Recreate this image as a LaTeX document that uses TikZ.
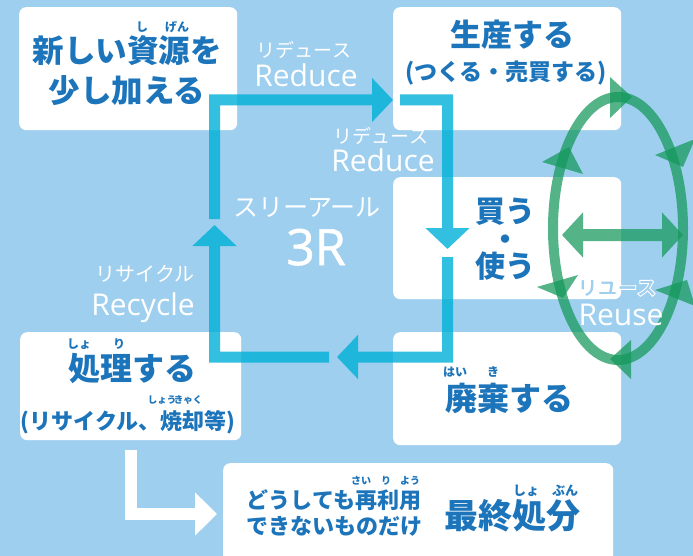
\documentclass[tikz,border=0pt]{standalone}
\usepackage{fontspec}
\newfontfamily\jp{Noto Sans CJK JP}
\newfontfamily\lat{Open Sans}
\newfontfamily\latb{Open Sans}[FakeBold=1.2]
\usetikzlibrary{arrows.meta}
\definecolor{bgblue}{HTML}{9FCFEE}
\definecolor{jpblue}{HTML}{1C74BA}
\definecolor{cyanc}{HTML}{00B0D8}
\definecolor{greenc}{HTML}{14985A}
\newcommand\jfs[1]{\fontsize{#1}{#1}\selectfont}
\newcommand\buyfont{\jp\bfseries\fontsize{30}{27.5}\selectfont\lineskiplimit=-100pt\relax}
\newcommand\outlinetext[1]{\special{pdf:code q 2 Tr 1 1 1 RG 0.9 w}#1\special{pdf:code Q}}
\begin{document}
\begin{tikzpicture}[x=1pt,y=-1pt,
  box/.style={fill=white, rounded corners=7pt, inner sep=0pt, anchor=north west},
  jt/.style={text=jpblue, font=\jp\bfseries, inner sep=0pt},
  wt/.style={text=white, font=\jp, inner sep=0pt},
  wl/.style={text=white, font=\lat, inner sep=0pt, anchor=base},
  loopline/.style={draw=cyanc, line width=11pt, -{Triangle[length=21pt,width=43pt]}},
  greenshape/.style={fill=greenc, opacity=0.72},
]
\clip (0,0) rectangle (693,556);
\fill[bgblue] (0,0) rectangle (693,556);

% boxes
\node[box, minimum width=218pt, minimum height=123pt] (b1) at (19,7) {};
\node[box, minimum width=228pt, minimum height=123pt] (b2) at (393,7) {};
\node[box, minimum width=228pt, minimum height=122pt] (b3) at (393,177) {};
\node[box, minimum width=228pt, minimum height=113pt] (b4) at (393,332) {};
\node[box, minimum width=221pt, minimum height=108pt] (b5) at (20,332) {};
\node[box, minimum width=390pt, minimum height=117pt] (b6) at (223,463) {};

% cyan loop
\coordinate (a1) at (214.5,219);
\coordinate (ac) at (214.5,100);
\coordinate (a2) at (393,100);
\coordinate (p1) at (400,100);
\coordinate (pc) at (447.5,100);
\coordinate (p2) at (447.5,249);
\coordinate (c1) at (447.5,257);
\coordinate (cc) at (447.5,357);
\coordinate (c2) at (337,357);
\coordinate (d1) at (329,357);
\coordinate (dc) at (214.5,357);
\coordinate (d2) at (214.5,225);
\begin{scope}[transparency group, opacity=0.8]
\draw[loopline] (a1) -- (ac) -- (a2);
\draw[loopline] (p1) -- (pc) -- (p2);
\draw[loopline] (c1) -- (cc) -- (c2);
\draw[loopline] (d1) -- (dc) -- (d2);
\end{scope}

% white arrow to final disposal
\coordinate (w1) at (131,450);
\coordinate (wc) at (131,514);
\coordinate (w2) at (217,514);
\draw[white, line width=12pt, -{Triangle[length=22pt,width=42pt]}] (w1) -- (wc) -- (w2);

% green reuse ellipse
\coordinate (ec) at (618,228.5);
\draw[greenc, line width=10pt, opacity=0.72] (ec) ellipse [x radius=65pt, y radius=131.5pt];
\fill[greenshape] (610,77) -- (632,97) -- (610,118) -- cycle;
\fill[greenshape] (631,340) -- (610,359) -- (631,379) -- cycle;
\fill[greenshape] (542,162) -- (569,147) -- (583,174) -- cycle;
\fill[greenshape] (537,287) -- (563,298) -- (578,275) -- cycle;
\fill[greenshape] (655,155) -- (683,167) -- (695,139) -- cycle;
\fill[greenshape] (655,290) -- (687,280) -- (695,306) -- cycle;
\coordinate (g1) at (562,235);
\coordinate (g2) at (683,235);
\begin{scope}[transparency group, opacity=0.72]
\draw[greenc, line width=12pt, {Triangle[length=21pt,width=44pt]}-{Triangle[length=21pt,width=44pt]}] (g1) -- (g2);
\end{scope}

% box texts
\node[jt] (t1a) at (127,51) {\jfs{31.5}新しい資源を};
\node[jt] (t1b) at (127,91) {\jfs{31.5}少し加える};
\node[jt] (r1a) at (142,27) {\jfs{12}し};
\node[jt] (r1b) at (177,27) {\jfs{12}げん};

\node[jt] (t2a) at (512,35) {\jfs{31}生産する};
\node[jt] (t2b) at (506,73) {\jfs{23}(つくる・売買する)};

\node[jt, align=center, font=\buyfont] (t3) at (505,239.5) {買う\\・\\使う};

\node[jt] (t4) at (509,398) {\jfs{32}廃棄する};
\node[jt] (r4a) at (455,372) {\jfs{12}はい};
\node[jt] (r4b) at (493,372) {\jfs{12}き};

\node[jt] (t5a) at (132,369) {\jfs{32}処理する};
\node[jt] (r5a) at (79,344) {\jfs{12}しょ};
\node[jt] (r5b) at (119,344) {\jfs{12}り};
\node[jt] (t5b) at (128,422) {\jfs{22}(リサイクル、焼却等)};
\node[jt] (r5c) at (162,400) {\jfs{9.5}しょう};
\node[jt] (r5d) at (188,400) {\jfs{9.5}きゃく};

\node[jt] (t6a) at (334,500) {\jfs{22}どうしても再利用};
\node[jt] (t6b) at (334,526) {\jfs{22}できないものだけ};
\node[jt] (r6a) at (361,481) {\jfs{10}さい};
\node[jt] (r6b) at (386,481) {\jfs{10}り};
\node[jt] (r6c) at (410,481) {\jfs{10}よう};
\node[jt] (t7) at (512,516) {\jfs{34}最終処分};
\node[jt] (r7a) at (526,491) {\jfs{13}しょ};
\node[jt] (r7b) at (565,491) {\jfs{13}ぶん};

% white labels
\node[wt] (l1a) at (304,50) {\jfs{19}リデュース};
\node[wl] (l1b) at (306,87) {\jfs{30}Reduce};
\node[wt] (l2a) at (381,136) {\jfs{19}リデュース};
\node[wl] (l2b) at (383,172) {\jfs{30}Reduce};
\node[wt] (l3a) at (307,208) {\jfs{25}スリーアール};
\node[wl, font=\latb] (l3b) at (316,265) {\jfs{50}3R};
\node[wt] (l4a) at (145,274) {\jfs{20}リサイクル};
\node[wl] (l4b) at (143,315) {\jfs{30}Recycle};
\node[wt, text=bgblue, font=\jp\bfseries] (l5a) at (617,288) {\jfs{20}\outlinetext{リユース}};
\node[wl] (l5b) at (621,325) {\jfs{30}Reuse};
\end{tikzpicture}
\end{document}
